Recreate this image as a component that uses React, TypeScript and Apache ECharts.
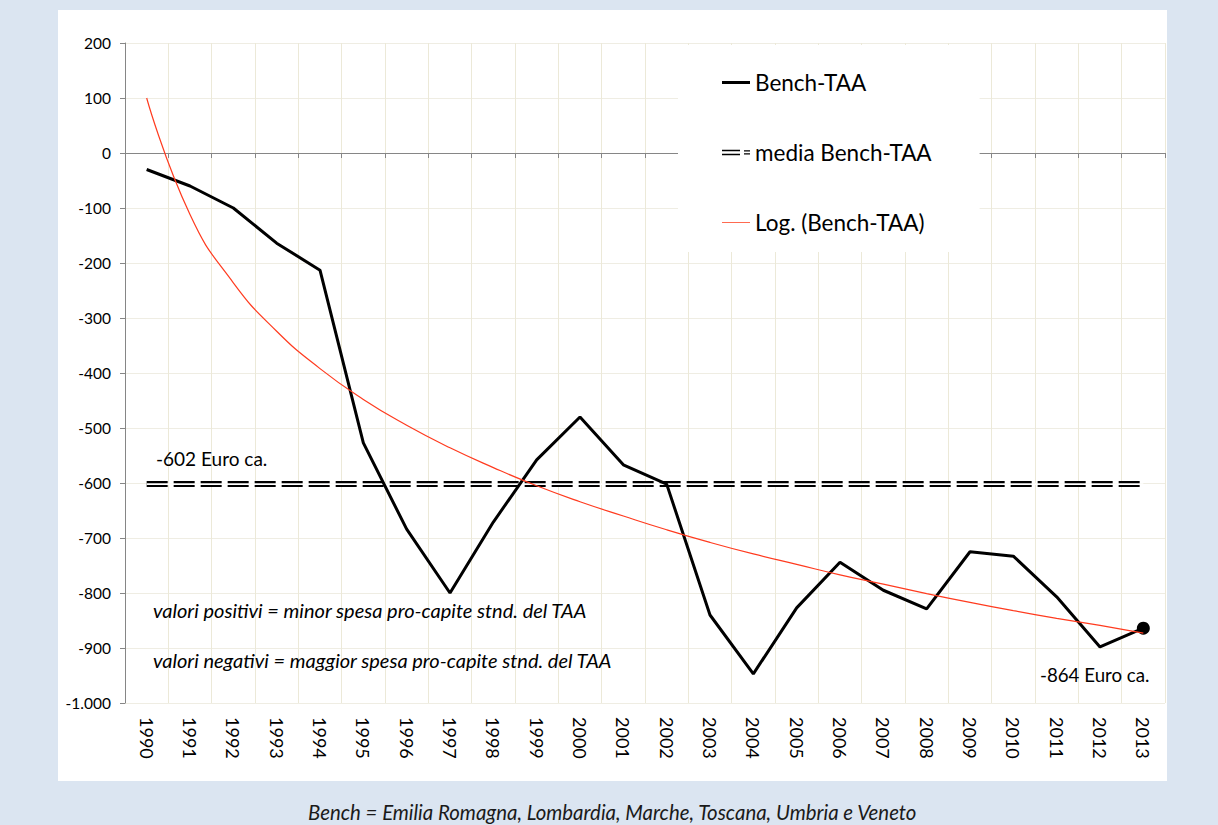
import React, { useEffect, useRef } from "react";
import * as echarts from "echarts";

const years = ["1990","1991","1992","1993","1994","1995","1996","1997","1998","1999","2000","2001","2002","2003","2004","2005","2006","2007","2008","2009","2010","2011","2012","2013"];
const benchTAA = [-30,-60,-100,-164,-213,-527,-684,-800,-671,-558,-480,-567,-602,-840,-947,-827,-744,-795,-829,-725,-733,-807,-898,-864];
const meanValue = -602;
const logTrend = [100,-112,-236,-324,-392,-448,-495,-536,-572,-605,-634,-660,-685,-708,-729,-748,-767,-784,-801,-817,-832,-846,-859,-873];
const yTicks = { min: -1000, max: 200, interval: 100 };

const FONT = "Lato, 'Open Sans', sans-serif";

export default function App() {
  const ref = useRef<HTMLDivElement>(null);
  useEffect(() => {
    if (!ref.current) return;
    const chart = echarts.init(ref.current, undefined, { renderer: "svg" });
    const meanData = years.map(() => meanValue);
    const benchData: any[] = benchTAA.map((v, i) =>
      i === benchTAA.length - 1 ? { value: v, symbol: "circle", symbolSize: 13 } : v
    );
    chart.setOption({
      animation: false,
      backgroundColor: "#dbe5f1",
      textStyle: { fontFamily: FONT },
      grid: { left: 125, right: 53, top: 43, bottom: 122, containLabel: false },
      graphic: [
        { type: "rect", z: -10, silent: true, shape: { x: 58, y: 10, width: 1109, height: 771 }, style: { fill: "#ffffff" } },
        { type: "text", left: 156, top: 449, z: 50, style: { text: "-602 Euro ca.", font: `19px ${FONT}`, fill: "#000" } },
        { type: "text", left: 153, top: 600, z: 50, style: { text: "valori positivi = minor spesa pro-capite stnd. del TAA", font: `italic 20px ${FONT}`, fill: "#000" } },
        { type: "text", left: 153, top: 650, z: 50, style: { text: "valori negativi = maggior spesa pro-capite stnd. del TAA", font: `italic 20px ${FONT}`, fill: "#000" } },
        { type: "text", left: 1040, top: 665, z: 50, style: { text: "-864 Euro ca.", font: `18.7px ${FONT}`, fill: "#000" } },
        { type: "text", left: 308, top: 802, z: 50, style: { text: "Bench = Emilia Romagna, Lombardia, Marche, Toscana, Umbria e Veneto", font: `italic 20.4px ${FONT}`, fill: "#1a1a1a" } },
      ],
      legend: {
        orient: "vertical",
        left: 678,
        top: 45,
        backgroundColor: "#ffffff",
        padding: [26, 48, 18, 44],
        itemGap: 47,
        itemWidth: 28,
        itemHeight: 12,
        textStyle: { fontSize: 22.5, color: "#000", fontFamily: FONT },
        data: [
          { name: "Bench-TAA", icon: "path://M0,5h28v3h-28z", itemStyle: { color: "#000" } },
          { name: "media Bench-TAA", icon: "path://M0,3h18v1.6h-18z M0,7h18v1.6h-18z M22,3.5h6v1.4h-6z M22,6.5h6v1.4h-6z", itemStyle: { color: "#000" } },
          { name: "Log. (Bench-TAA)", icon: "path://M0,6h28v1h-28z", itemStyle: { color: "#ff6a50" } },
        ],
        z: 20,
      },
      xAxis: [
        {
          type: "category",
          data: years,
          position: "bottom",
          boundaryGap: true,
          axisLine: { show: false, onZero: false },
          axisTick: { show: false },
          axisLabel: { rotate: -90, margin: 14, fontSize: 18, color: "#000", fontFamily: FONT },
          splitLine: { show: true, lineStyle: { color: "#ece9d8", width: 1 } },
        },
        {
          type: "category",
          data: years,
          position: "bottom",
          boundaryGap: true,
          axisLine: { show: true, onZero: true, lineStyle: { color: "#868686", width: 1 } },
          axisTick: { show: true, length: 5, lineStyle: { color: "#868686" } },
          axisLabel: { show: false },
          splitLine: { show: false },
        },
      ],
      yAxis: {
        type: "value",
        min: yTicks.min,
        max: yTicks.max,
        interval: yTicks.interval,
        axisLine: { show: true, lineStyle: { color: "#868686", width: 1 } },
        axisTick: { show: true, length: 5, lineStyle: { color: "#868686" } },
        axisLabel: {
          fontSize: 15.5,
          color: "#000",
          margin: 14,
          fontFamily: FONT,
          formatter: (v: number) => (v === -1000 ? "-1.000" : String(v)),
        },
        splitLine: { show: true, lineStyle: { color: "#efede3", width: 1 } },
      },
      series: [
        {
          name: "media Bench-TAA",
          type: "line",
          data: meanData,
          symbol: "none",
          z: 2,
          lineStyle: { color: "#000", width: 6, type: [21, 6] },
        },
        {
          name: "media-gap",
          type: "line",
          data: meanData,
          symbol: "none",
          z: 3,
          silent: true,
          lineStyle: { color: "#fff", width: 1.8 },
        },
        {
          name: "Bench-TAA",
          type: "line",
          data: benchData,
          symbol: "none",
          showSymbol: true,
          z: 4,
          itemStyle: { color: "#000" },
          lineStyle: { color: "#000", width: 3 },
        },
        {
          name: "Log. (Bench-TAA)",
          type: "line",
          data: logTrend,
          symbol: "none",
          smooth: 0.5,
          z: 5,
          lineStyle: { color: "#ff3b1f", width: 1.2 },
        },
      ],
    });
    return () => chart.dispose();
  }, []);
  return <div ref={ref} style={{ position: "fixed", left: 0, top: 0, width: 1218, height: 825 }} />;
}
